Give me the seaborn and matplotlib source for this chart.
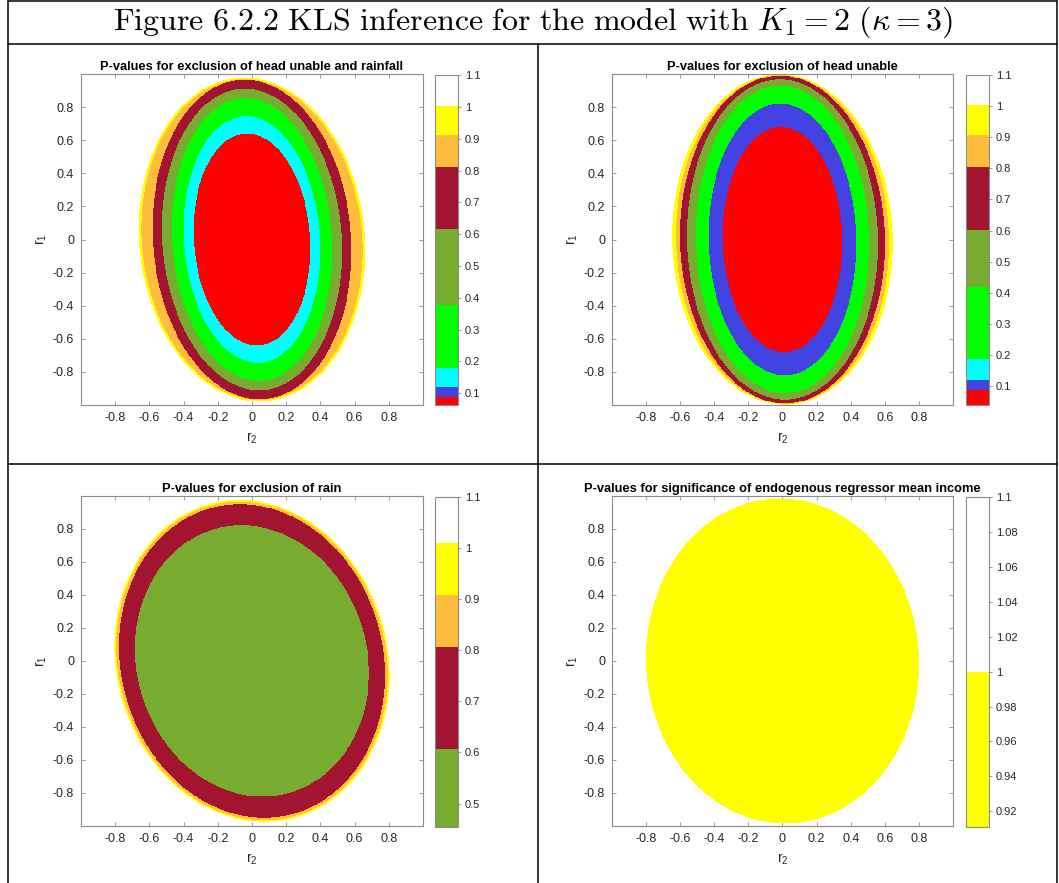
import numpy as np
import matplotlib
matplotlib.use("Agg")
import matplotlib.pyplot as plt
from matplotlib.colors import ListedColormap, BoundaryNorm
from matplotlib.cm import ScalarMappable
from matplotlib.lines import Line2D
import seaborn as sns

sns.set_theme(style="white")
plt.rcParams["font.family"] = ["Liberation Sans", "DejaVu Sans"]
plt.rcParams["mathtext.fontset"] = "custom"
plt.rcParams["mathtext.rm"] = "Liberation Sans"
plt.rcParams["mathtext.it"] = "Liberation Sans"

# band colours (matlab-ish)
RED = "#ff0000"
BLUE = "#4343e3"
CYAN = "#00ffff"
GREEN = "#00ff00"
OLIVE = "#77ac30"
DARKRED = "#a2142f"
ORANGE = "#ffbd3e"
YELLOW = "#ffff00"
WHITE = "#ffffff"

fig_title = r"$\mathrm{Figure\ 6.2.2\ KLS\ inference\ for\ the\ model\ with\ }K_1 = 2\ (\kappa = 3)$"

titles = [
    "P-values for exclusion of head unable and rainfall",
    "P-values for exclusion of head unable",
    "P-values for exclusion of rain",
    "P-values for significance of endogenous regressor mean income",
]

# --- top left: p-value bands, inner -> outer
tl_pvals = [0.07, 0.15, 0.30, 0.50, 0.70, 0.85, 0.95]
tl_half_w = [0.340, 0.398, 0.468, 0.525, 0.580, 0.645, 0.660]
tl_half_h = [0.640, 0.745, 0.854, 0.911, 0.965, 0.968, 0.978]
tl_shear = -0.045
tl_bounds = [0.063, 0.0895, 0.119, 0.179, 0.376, 0.615, 0.811, 0.911, 1.003, 1.1]
tl_colors = [RED, BLUE, CYAN, GREEN, OLIVE, DARKRED, ORANGE, YELLOW, WHITE]
tl_cticks = [0.1, 0.2, 0.3, 0.4, 0.5, 0.6, 0.7, 0.8, 0.9, 1.0, 1.1]

# --- top right
tr_pvals = [0.06, 0.10, 0.30, 0.50, 0.70, 0.85, 0.95]
tr_half_w = [0.350, 0.433, 0.508, 0.560, 0.600, 0.625, 0.647]
tr_half_h = [0.680, 0.820, 0.928, 0.967, 0.990, 0.993, 0.998]
tr_shear = -0.015
tr_bounds = [0.039, 0.087, 0.121, 0.187, 0.417, 0.603, 0.805, 0.906, 1.003, 1.1]
tr_colors = [RED, BLUE, CYAN, GREEN, OLIVE, DARKRED, ORANGE, YELLOW, WHITE]
tr_cticks = [0.1, 0.2, 0.3, 0.4, 0.5, 0.6, 0.7, 0.8, 0.9, 1.0, 1.1]

# --- bottom left
bl_pvals = [0.55, 0.70, 0.85, 0.95]
bl_half_w = [0.681, 0.774, 0.790, 0.800]
bl_half_h = [0.822, 0.950, 0.965, 0.975]
bl_shear = -0.075
bl_bounds = [0.454, 0.606, 0.807, 0.9085, 1.0098, 1.1]
bl_colors = [OLIVE, DARKRED, ORANGE, YELLOW, WHITE]
bl_cticks = [0.5, 0.6, 0.7, 0.8, 0.9, 1.0, 1.1]

# --- bottom right
br_pvals = [0.95]
br_half_w = [0.800]
br_half_h = [0.985]
br_shear = -0.015
br_bounds = [0.911, 1.0, 1.1]
br_colors = [YELLOW, WHITE]
br_cticks = [0.92, 0.94, 0.96, 0.98, 1.0, 1.02, 1.04, 1.06, 1.08, 1.1]

panels = [
    (tl_pvals, tl_half_w, tl_half_h, tl_shear, tl_bounds, tl_colors, tl_cticks),
    (tr_pvals, tr_half_w, tr_half_h, tr_shear, tr_bounds, tr_colors, tr_cticks),
    (bl_pvals, bl_half_w, bl_half_h, bl_shear, bl_bounds, bl_colors, bl_cticks),
    (br_pvals, br_half_w, br_half_h, br_shear, br_bounds, br_colors, br_cticks),
]

axis_ticks = [-0.8, -0.6, -0.4, -0.2, 0.0, 0.2, 0.4, 0.6, 0.8]

# axes / colorbar boxes in figure fractions
ax_pos = [
    [0.0765, 0.5413, 0.3229, 0.3749],
    [0.5779, 0.5413, 0.3220, 0.3749],
    [0.0765, 0.0646, 0.3229, 0.3737],
    [0.5779, 0.0646, 0.3220, 0.3737],
]
cb_pos = [
    [0.4108, 0.5413, 0.0217, 0.3737],
    [0.9122, 0.5413, 0.0217, 0.3737],
    [0.4108, 0.0634, 0.0217, 0.3737],
    [0.9122, 0.0634, 0.0217, 0.3737],
]

TXT = "#262626"
EDGE = "#8c8c8c"

fig = plt.figure(figsize=(10.59, 8.83), dpi=100)

grid = np.linspace(-1, 1, 701)
X, Y = np.meshgrid(grid, grid)

for i, (pv, hw, hh, shear, bounds, cols, cticks) in enumerate(panels):
    ax = fig.add_axes(ax_pos[i])
    field = np.full(X.shape, np.nan)
    # paint from outer band to inner band
    for p, w, h in reversed(list(zip(pv, hw, hh))):
        dx = X - shear * Y
        inside = (dx / w) ** 2 + (Y / h) ** 2 <= 1
        field[inside] = p
    cmap = ListedColormap(cols)
    norm = BoundaryNorm(bounds, cmap.N)
    ax.pcolormesh(grid, grid, np.ma.masked_invalid(field), cmap=cmap, norm=norm,
                  shading="nearest", rasterized=True)
    ax.set_xlim(-1, 1)
    ax.set_ylim(-1, 1)
    ax.set_facecolor("white")
    ax.set_xticks(axis_ticks)
    ax.set_yticks(axis_ticks)
    ax.set_xticklabels([f"{t:g}" for t in axis_ticks])
    ax.set_yticklabels([f"{t:g}" for t in axis_ticks])
    ax.tick_params(direction="in", length=3, width=0.6, color=EDGE,
                   labelsize=9, labelcolor=TXT, top=True, right=True,
                   bottom=True, left=True, pad=5)
    for s in ax.spines.values():
        s.set_color(EDGE)
        s.set_linewidth(0.8)
        s.set_visible(True)
    ax.set_xlabel(r"$\mathregular{r_2}$", fontsize=10, color=TXT, labelpad=5)
    ax.set_ylabel(r"$\mathregular{r_1}$", fontsize=10, color=TXT, labelpad=3)
    ax.set_title(titles[i], fontsize=9.3, fontweight="bold", color="black", pad=3)

    cax = fig.add_axes(cb_pos[i])
    cb = fig.colorbar(ScalarMappable(norm=norm, cmap=cmap), cax=cax,
                      spacing="proportional", ticks=cticks)
    cb.minorticks_off()
    cb.ax.set_yticklabels([f"{t:g}" for t in cticks])
    cb.ax.tick_params(which="both", direction="out", length=2, width=0.6, color=EDGE,
                      labelsize=8, labelcolor=TXT, pad=3)
    cb.ax.tick_params(which="minor", length=0)
    cb.outline.set_edgecolor(EDGE)
    cb.outline.set_linewidth(0.8)

# table frame around the figure
line_kw = dict(transform=fig.transFigure, color="black", lw=1.1)
W, H = 1059, 883
frame = [
    ([8, 1057], [1, 1]),
    ([8, 1057], [44, 44]),
    ([8, 1057], [464, 464]),
    ([8, 8], [1, 883]),
    ([1057, 1057], [1, 883]),
    ([538, 538], [44, 883]),
]
for xs, ys in frame:
    fig.add_artist(Line2D([x / W for x in xs], [1 - y / H for y in ys], **line_kw))

fig.text(533 / W, 1 - 22 / H, fig_title, ha="center", va="center",
         fontsize=23, color="black", math_fontfamily="cm")

fig.savefig("out.png", dpi=100)
